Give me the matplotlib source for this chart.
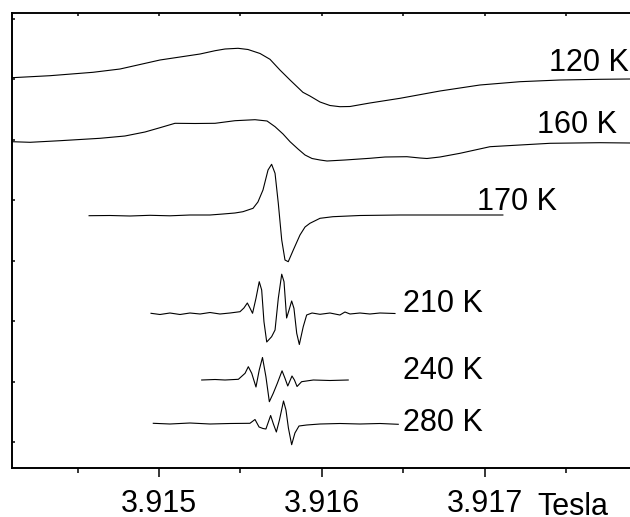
import numpy as np
import matplotlib
matplotlib.use("Agg")
import matplotlib.pyplot as plt
from matplotlib.ticker import MultipleLocator, FormatStrFormatter

plt.rcParams['font.family'] = ['Liberation Sans', 'DejaVu Sans']

# EPR spectra, field in Tesla, signal in arbitrary units (relative to each baseline)
field_120 = [3.914098, 3.914331, 3.914595, 3.914761, 3.915006, 3.915252, 3.915344,
             3.915405, 3.915485, 3.915546, 3.915620, 3.915681, 3.915742, 3.915804,
             3.915883, 3.915926, 3.915988, 3.916049, 3.916110, 3.916172, 3.916294,
             3.916479, 3.916724, 3.916969, 3.917215, 3.917460, 3.917706, 3.917890]
sig_120 = [0.3, 2.3, 5.7, 9.0, 18.0, 24.0, 27.3, 29.0, 29.7, 28.5, 24.5, 18.7, 8.0,
           -2.0, -14.3, -18.0, -24.0, -27.5, -28.7, -28.5, -25.0, -20.3, -13.0, -7.0,
           -3.7, -2.0, -1.3, -1.0]

field_160 = [3.914098, 3.914209, 3.914393, 3.914638, 3.914791, 3.914914, 3.915006,
             3.915098, 3.915221, 3.915344, 3.915466, 3.915589, 3.915663, 3.915712,
             3.915761, 3.915804, 3.915853, 3.915896, 3.915939, 3.915988, 3.916031,
             3.916141, 3.916294, 3.916387, 3.916521, 3.916601, 3.916644, 3.916724,
             3.916847, 3.917031, 3.917215, 3.917399, 3.917706, 3.917890]
sig_160 = [0.3, -0.3, 1.3, 3.7, 6.0, 10.0, 14.3, 18.7, 18.5, 18.7, 21.3, 22.3, 21.0,
           15.3, 8.0, 0.3, -7.0, -13.0, -16.5, -18.0, -19.0, -18.0, -16.3, -15.0,
           -14.7, -16.0, -16.5, -15.0, -11.3, -4.7, -3.0, -1.3, -0.7, -1.0]

field_170 = [3.914571, 3.914699, 3.914822, 3.914945, 3.915067, 3.915190, 3.915313,
             3.915393, 3.915466, 3.915515, 3.915577, 3.915607, 3.915638, 3.915669,
             3.915691, 3.915712, 3.915732, 3.915753, 3.915773, 3.915793, 3.915824,
             3.915865, 3.915896, 3.915926, 3.915988, 3.916067, 3.916233, 3.916479,
             3.916785, 3.917110]
sig_170 = [-0.2, 0.0, -0.5, 0.2, -0.3, 0.5, 0.5, 1.5, 2.5, 3.8, 7.2, 13.5, 25.5, 45.5,
           51.2, 42.2, 12.2, -24.5, -44.5, -46.2, -34.5, -19.5, -11.5, -7.8, -2.8,
           -1.2, 0.0, 0.5, 0.5, 0.5]

field_210 = [3.914951, 3.915006, 3.915067, 3.915129, 3.915190, 3.915252, 3.915313,
             3.915374, 3.915436, 3.915497, 3.915521, 3.915542, 3.915558, 3.915574,
             3.915595, 3.915615, 3.915630, 3.915644, 3.915661, 3.915691, 3.915712,
             3.915732, 3.915753, 3.915767, 3.915783, 3.915798, 3.915814, 3.915828,
             3.915845, 3.915861, 3.915885, 3.915906, 3.915939, 3.915988, 3.916049,
             3.916110, 3.916141, 3.916172, 3.916233, 3.916294, 3.916356, 3.916448]
sig_210 = [0.2, -1.0, 0.5, -1.0, 0.5, -0.5, 1.0, -0.5, 0.5, 1.8, 5.5, 10.5, 5.5, 0.2,
           15.2, 31.8, 23.5, -8.2, -28.5, -23.2, -16.5, 15.2, 39.3, 31.8, -4.5, 3.5,
           12.5, 5.2, -19.8, -31.0, -13.2, -1.5, 0.5, -0.8, 0.5, -1.5, 1.5, -0.5, 0.5,
           -0.5, 0.5, 0.0]

field_240 = [3.915262, 3.915344, 3.915405, 3.915487, 3.915528, 3.915548, 3.915569,
             3.915595, 3.915615, 3.915635, 3.915656, 3.915677, 3.915701, 3.915726,
             3.915755, 3.915773, 3.915790, 3.915816, 3.915831, 3.915847, 3.915875,
             3.915947, 3.916049, 3.916161]
sig_240 = [0.0, 0.5, 0.0, 0.7, 6.7, 13.3, 6.7, -7.0, 10.0, 22.5, 3.3, -21.7, -13.3,
           -3.3, 9.2, 1.7, -6.0, 4.0, 0.0, -6.5, -1.7, 0.0, -0.5, 0.0]

field_280 = [3.914965, 3.915067, 3.915190, 3.915313, 3.915436, 3.915558, 3.915589,
             3.915614, 3.915638, 3.915656, 3.915685, 3.915702, 3.915720, 3.915739,
             3.915764, 3.915779, 3.915794, 3.915814, 3.915834, 3.915859, 3.915906,
             3.915988, 3.916110, 3.916233, 3.916356, 3.916468]
sig_280 = [0.2, -0.5, 0.5, -0.5, 0.0, 0.2, 4.0, -3.5, -5.0, -5.5, 8.0, -0.5, -8.5, 3.5,
           22.5, 13.5, -4.5, -21.2, -9.5, -2.5, -1.5, -0.5, 0.0, -0.5, 0.0, -0.8]

temps = ['120 K', '160 K', '170 K', '210 K', '240 K', '280 K']
offsets = [364, 300, 226.5, 128.5, 62, 18.5]
fields = [field_120, field_160, field_170, field_210, field_240, field_280]
signals = [sig_120, sig_160, sig_170, sig_210, sig_240, sig_280]

# label anchor (field, height)
label_x = [3.917390, 3.917322, 3.916954, 3.916495, 3.916495, 3.916495]
label_y = [371, 309, 232, 130, 63, 11]

fig = plt.figure(figsize=(6.3, 5.17), dpi=100)
ax = fig.add_axes([12/630, 1-467.7/517, 1-12/630, (467.7-13)/517])

for f, s, off in zip(fields, signals, offsets):
    ax.plot(f, np.array(s) + off, color='black', lw=0.8)

for t, lx, ly in zip(temps, label_x, label_y):
    ax.text(lx, ly, t, fontsize=22, ha='left', va='baseline')

ax.set_xlim(3.914098, 3.917890)
ax.set_ylim(-25.7, 429)

ax.xaxis.set_major_locator(MultipleLocator(0.001))
ax.xaxis.set_minor_locator(MultipleLocator(0.0005))
ax.xaxis.set_major_formatter(FormatStrFormatter('%.3f'))
ax.tick_params(axis='x', which='major', direction='out', length=6.5, width=1.1,
               pad=9.0, labelsize=22)
ax.tick_params(axis='x', which='minor', direction='out', length=3.8, width=1.1)

ax.yaxis.set_major_locator(MultipleLocator(60.5))
ax.tick_params(axis='y', which='major', direction='in', length=2.5, width=1.1,
               labelleft=False)

ax.spines['right'].set_visible(False)
ax.spines['left'].set_linewidth(1.4)
ax.spines['bottom'].set_linewidth(1.4)
ax.spines['top'].set_linewidth(1.1)

top = ax.secondary_xaxis('top')
top.xaxis.set_major_locator(MultipleLocator(0.0005))
top.tick_params(direction='in', length=2.5, width=1.1, labeltop=False)
top.spines['top'].set_linewidth(1.1)

fig.text(537/630, 1-515/517, 'Tesla', fontsize=22, ha='left', va='baseline')

fig.savefig('out.png', dpi=100)
